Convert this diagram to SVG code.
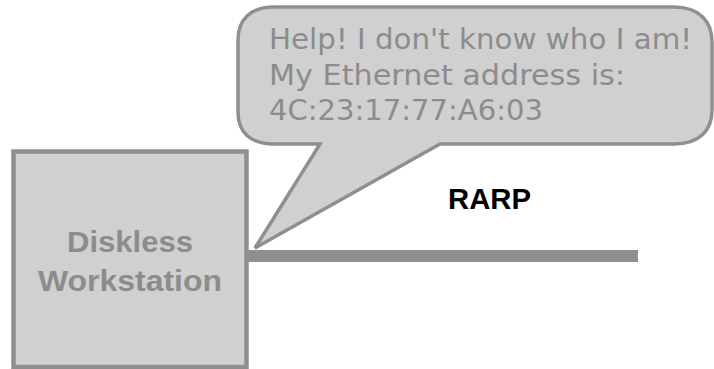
<svg xmlns="http://www.w3.org/2000/svg" width="714" height="369" viewBox="0 0 714 369">
  <style>
    .shape { fill: #d0d0d0; stroke: #8f8f8f; }
    .bubble-text { font-family: "DejaVu Sans", "Liberation Sans", sans-serif; font-size: 28px; fill: #8c8c8c; }
    .node-text { font-family: "Liberation Sans", Arial, sans-serif; font-weight: bold; font-size: 30px; fill: #8c8c8c; text-anchor: middle; }
    .label { font-family: "Liberation Sans", Arial, sans-serif; font-weight: bold; font-size: 29px; fill: #000000; }
  </style>

  <rect width="714" height="369" fill="#ffffff"/>

  <!-- network cable -->
  <g id="connectors">
    <line x1="247" y1="256" x2="638" y2="256" stroke="#8f8f8f" stroke-width="12"/>
  </g>

  <!-- workstation -->
  <g id="workstation">
    <rect class="shape" x="13.5" y="151.5" width="233" height="215.5" stroke-width="4.5"/>
    <text class="node-text" x="130" y="251.5" textLength="126" lengthAdjust="spacingAndGlyphs">Diskless</text>
    <text class="node-text" x="130" y="290.5" textLength="184" lengthAdjust="spacingAndGlyphs">Workstation</text>
  </g>

  <!-- speech callout -->
  <g id="callout">
    <path class="shape" stroke-width="3.5" stroke-linejoin="miter"
          d="M 274 7 H 674 C 700 7 712 22 712 42 V 110 C 712 130 700 144 674 144 H 440 L 255 248 L 320 144 H 274 C 250 144 238 132 238 112 V 40 C 238 20 250 7 274 7 Z"/>
    <text class="bubble-text" x="269" y="48.5" textLength="423" lengthAdjust="spacingAndGlyphs">Help! I don't know who I am!</text>
    <text class="bubble-text" x="269" y="85" textLength="356" lengthAdjust="spacingAndGlyphs">My Ethernet address is:</text>
    <text class="bubble-text" x="269" y="119.5" textLength="274" lengthAdjust="spacingAndGlyphs">4C:23:17:77:A6:03</text>
  </g>

  <!-- protocol label -->
  <g id="label-rarp">
    <text class="label" x="448" y="208.5" textLength="83" lengthAdjust="spacingAndGlyphs">RARP</text>
  </g>
</svg>
